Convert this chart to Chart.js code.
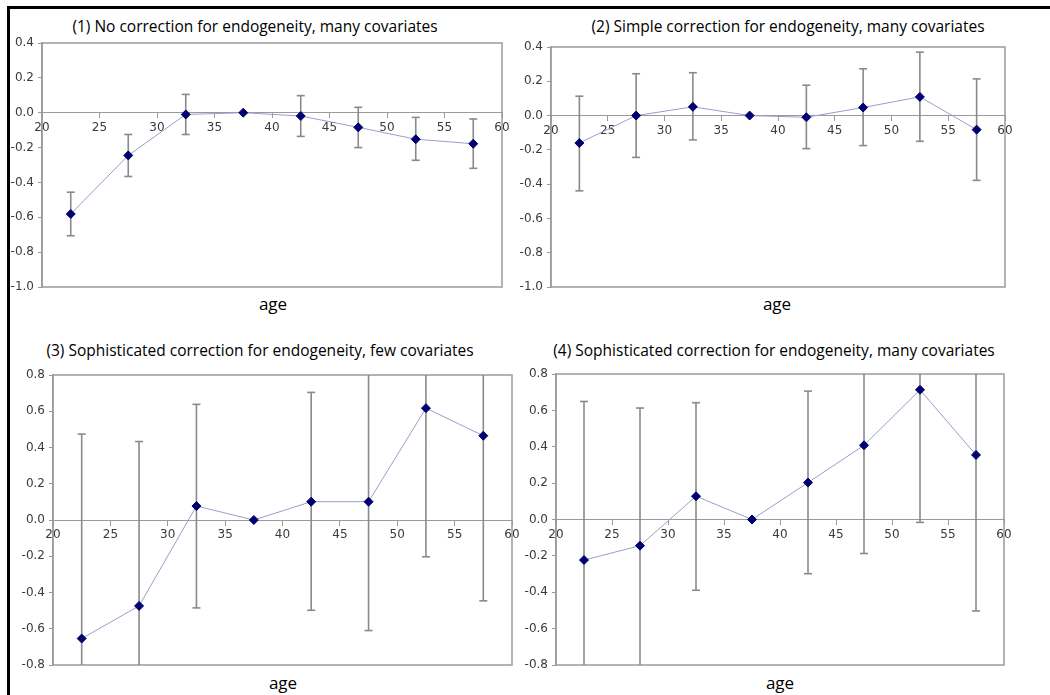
<!DOCTYPE html>
<html>
<head>
<meta charset="utf-8">
<script src="https://cdn.jsdelivr.net/npm/chart.js@4/dist/chart.umd.min.js"></script>
<style>
  html, body { margin: 0; padding: 0; background: #fff; }
  #wrap { position: relative; width: 1050px; height: 695px; background: #fff; overflow: hidden; }
  #wrap canvas { position: absolute; left: 0; top: 0; }
  .frame { position: absolute; left: 7px; top: 6px; width: 1060px; height: 700px;
           border-top: 3px solid #000; border-left: 3px solid #000; }
  .ttl { position: absolute; font-family: "Open Sans", "Noto Sans", sans-serif; font-size: 15.5px;
         color: #000; white-space: nowrap; transform: translate(-50%, -50%); }
  .age { position: absolute; font-family: "Open Sans", "Noto Sans", sans-serif; font-size: 17px;
         color: #000; white-space: nowrap; transform: translate(-50%, -50%); }
</style>
</head>
<body>
<div id="wrap">
  <div class="frame"></div>
  <div class="ttl" style="left:255px;top:26px">(1) No correction for endogeneity, many covariates</div>
  <div class="ttl" style="left:788px;top:26px">(2) Simple correction for endogeneity, many covariates</div>
  <div class="ttl" style="left:260px;top:350px">(3) Sophisticated correction for endogeneity, few covariates</div>
  <div class="ttl" style="left:774px;top:350px">(4) Sophisticated correction for endogeneity, many covariates</div>
  <div class="age" style="left:273px;top:303px">age</div>
  <div class="age" style="left:777px;top:303px">age</div>
  <div class="age" style="left:283px;top:682px">age</div>
  <div class="age" style="left:780px;top:682px">age</div>
  <canvas id="c1" width="1050" height="695"></canvas>
  <canvas id="c2" width="1050" height="695"></canvas>
  <canvas id="c3" width="1050" height="695"></canvas>
  <canvas id="c4" width="1050" height="695"></canvas>
</div>
<script>
// ---- data ----
const ages = [22.5, 27.5, 32.5, 37.5, 42.5, 47.5, 52.5, 57.5];

// (1) No correction, many covariates
const est1 = [-0.581, -0.245, -0.010, 0.000, -0.019, -0.084, -0.152, -0.178];
const lo1  = [-0.706, -0.366, -0.125, null, -0.136, -0.200, -0.273, -0.319];
const hi1  = [-0.456, -0.125,  0.105, null,  0.098,  0.031, -0.027, -0.036];

// (2) Simple correction, many covariates
const est2 = [-0.160, 0.000, 0.051, 0.000, -0.010, 0.047, 0.109, -0.082];
const lo2  = [-0.439, -0.244, -0.142, null, -0.193, -0.175, -0.150, -0.378];
const hi2  = [ 0.113,  0.244,  0.250, null,  0.177,  0.273,  0.370,  0.214];

// (3) Sophisticated correction, few covariates
const est3 = [-0.654, -0.474, 0.077, 0.000, 0.101, 0.101, 0.617, 0.465];
const lo3  = [-1.780, -1.380, -0.485, null, -0.498, -0.610, -0.203, -0.446];
const hi3  = [ 0.474,  0.433,  0.638, null,  0.704,  0.810,  1.440,  1.380];

// (4) Sophisticated correction, many covariates
const est4 = [-0.223, -0.144, 0.128, 0.000, 0.203, 0.408, 0.713, 0.355];
const lo4  = [-1.095, -0.900, -0.389, null, -0.298, -0.187, -0.016, -0.503];
const hi4  = [ 0.649,  0.613,  0.642, null,  0.706,  1.000,  1.440,  1.216];

const xTicks = [20, 25, 30, 35, 40, 45, 50, 55, 60];
const yRangeTop = [-1.0, 0.4];
const yRangeBottom = [-0.8, 0.8];

// ---- styling / layout ----
const AXIS_GRAY = '#9a9a9a';
const TICK_FONT = { family: '"DejaVu Sans", sans-serif', size: 12 };
const Y_AXIS_W = 34;

const plotBox = {
  id: 'plotBox',
  beforeDatasetsDraw(chart) {
    const { ctx, chartArea: a } = chart;
    ctx.save();
    ctx.strokeStyle = AXIS_GRAY;
    ctx.lineWidth = 1.5;
    ctx.strokeRect(a.left, a.top, a.right - a.left, a.bottom - a.top);
    ctx.restore();
  }
};

function errData(lo, hi) {
  const out = [];
  ages.forEach((a, i) => {
    if (lo[i] === null || hi[i] === null) return;
    out.push({ x: a, y: lo[i] }, { x: a, y: hi[i] }, { x: a, y: null });
  });
  return out;
}

function makeChart(id, est, lo, hi, yr, area) {
  new Chart(document.getElementById(id), {
    type: 'scatter',
    data: {
      datasets: [
        {
          label: 'estimate',
          data: ages.map((a, i) => ({ x: a, y: est[i] })),
          showLine: true,
          borderColor: '#9c9ccc',
          borderWidth: 1,
          pointStyle: 'rectRot',
          pointRadius: 4.5,
          pointBackgroundColor: '#000070',
          pointBorderColor: '#000070',
          pointBorderWidth: 1
        },
        {
          label: 'interval',
          data: errData(lo, hi),
          showLine: true,
          spanGaps: false,
          borderColor: '#8a8a8a',
          borderWidth: 1.6,
          pointStyle: 'line',
          pointRadius: 4,
          pointBorderColor: '#8a8a8a',
          pointBorderWidth: 1.6
        }
      ]
    },
    options: {
      responsive: false,
      animation: false,
      events: [],
      layout: {
        padding: { left: area.L - Y_AXIS_W, top: area.T, right: 1050 - area.R, bottom: 695 - area.B }
      },
      plugins: { legend: { display: false }, tooltip: { enabled: false }, title: { display: false } },
      scales: {
        x: {
          type: 'linear',
          position: { y: 0 },
          min: xTicks[0],
          max: xTicks[xTicks.length - 1],
          afterBuildTicks: s => { s.ticks = xTicks.map(v => ({ value: v })); },
          ticks: { font: TICK_FONT, color: '#3a3a3a', padding: 3, maxRotation: 0,
                   callback: v => String(v) },
          grid: { drawOnChartArea: false, drawTicks: true, tickLength: 5, color: AXIS_GRAY, lineWidth: 1 },
          border: { color: AXIS_GRAY, width: 1 }
        },
        y: {
          type: 'linear',
          position: 'left',
          min: yr[0],
          max: yr[1],
          afterFit: s => { s.width = Y_AXIS_W; },
          ticks: { stepSize: 0.2, font: TICK_FONT, color: '#3a3a3a', padding: 4,
                   callback: v => (Math.abs(v) < 1e-9 ? 0 : v).toFixed(1) },
          grid: { drawOnChartArea: false, drawTicks: true, tickLength: 4, color: AXIS_GRAY },
          border: { color: AXIS_GRAY, width: 1.5 }
        }
      }
    },
    plugins: [plotBox]
  });
}

makeChart('c1', est1, lo1, hi1, yRangeTop,    { L: 42,  R: 502,  T: 43,  B: 287 });
makeChart('c2', est2, lo2, hi2, yRangeTop,    { L: 551, R: 1005, T: 47,  B: 287 });
makeChart('c3', est3, lo3, hi3, yRangeBottom, { L: 53,  R: 512,  T: 375, B: 665 });
makeChart('c4', est4, lo4, hi4, yRangeBottom, { L: 556, R: 1004, T: 374, B: 665 });
</script>
</body>
</html>
